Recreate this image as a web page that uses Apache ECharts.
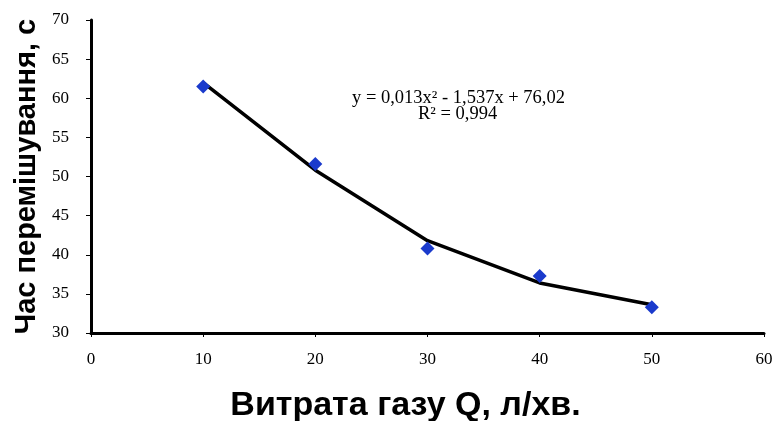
<!DOCTYPE html>
<html>
<head>
<meta charset="utf-8">
<script src="https://cdn.jsdelivr.net/npm/echarts@6/dist/echarts.min.js"></script>
<style>html,body{margin:0;padding:0;background:#fff}#c{width:773px;height:421px}</style>
</head>
<body>
<div id="c"></div>
<script>
var gasFlow = [10, 20, 30, 40, 50];
var mixTime = [61.5, 51.6, 40.8, 37.3, 33.3];
var trendTime = [62.0, 50.8, 41.8, 36.4, 33.6];
var xTicks = [0, 10, 20, 30, 40, 50, 60];
var yTicks = [30, 35, 40, 45, 50, 55, 60, 65, 70];
var equationText = 'y = 0,013x² - 1,537x + 76,02';
var r2Text = 'R² = 0,994';

var chart = echarts.init(document.getElementById('c'));
var serif = '"Liberation Serif", "DejaVu Serif", serif';
var sans = '"Liberation Sans", Arial, sans-serif';
chart.setOption({
  animation: false,
  backgroundColor: '#ffffff',
  grid: { left: 91, right: 9, top: 20, bottom: 88, containLabel: false, outerBoundsMode: 'none' },
  xAxis: {
    type: 'value', min: xTicks[0], max: xTicks[xTicks.length - 1], interval: 10,
    name: 'Витрата газу Q, л/хв.', nameLocation: 'middle', nameGap: 56,
    nameTextStyle: { fontFamily: sans, fontWeight: 'bold', fontSize: 34, color: '#000', padding: [0, 44, 0, 0] },
    axisLine: { lineStyle: { color: '#000', width: 3 } },
    axisTick: { show: true, length: 4, lineStyle: { color: '#000', width: 1 } },
    axisLabel: { margin: 18, fontFamily: serif, fontSize: 17, color: '#000' },
    splitLine: { show: false }
  },
  yAxis: {
    type: 'value', min: yTicks[0], max: yTicks[yTicks.length - 1], interval: 5,
    name: 'Час перемішування, с', nameLocation: 'middle', nameGap: 50,
    nameTextStyle: { fontFamily: sans, fontWeight: 'bold', fontSize: 29, color: '#000' },
    axisLine: { show: true, lineStyle: { color: '#000', width: 3 } },
    axisTick: { show: true, length: 5, lineStyle: { color: '#000', width: 1 } },
    axisLabel: { margin: 22, fontFamily: serif, fontSize: 17, color: '#000' },
    splitLine: { show: false }
  },
  series: [
    {
      type: 'line', data: gasFlow.map(function (x, i) { return [x, trendTime[i]]; }),
      showSymbol: false, symbol: 'none', lineStyle: { color: '#000', width: 3.5 }, z: 2
    },
    {
      type: 'scatter', data: gasFlow.map(function (x, i) { return [x, mixTime[i]]; }),
      symbol: 'diamond', symbolSize: 14, itemStyle: { color: '#1a3acc', opacity: 1 }, z: 3
    }
  ],
  graphic: [
    { type: 'text', left: 352, top: 89, style: { text: equationText, font: '18.5px ' + serif, fill: '#000' } },
    { type: 'text', left: 418, top: 105, style: { text: r2Text, font: '18.5px ' + serif, fill: '#000' } }
  ]
});
</script>
</body>
</html>
